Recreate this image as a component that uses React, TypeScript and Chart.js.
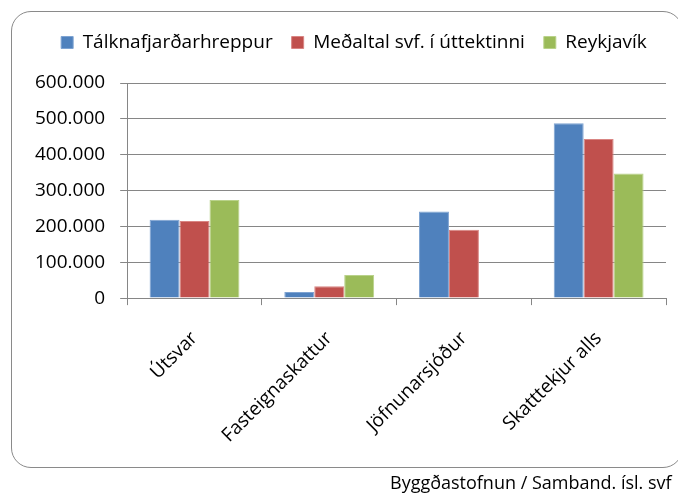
import { useEffect, useRef } from "react";
import { Chart, registerables } from "chart.js";

Chart.register(...registerables);

const categories = ["Útsvar", "Fasteignaskattur", "Jöfnunarsjóður", "Skatttekjur alls"];
const seriesNames = ["Tálknafjarðarhreppur", "Meðaltal svf. í úttektinni", "Reykjavík"];
const talknafjordur = [218500, 16900, 241900, 487600];
const medaltal = [214800, 32900, 190400, 443500];
const reykjavik = [273900, 64700, 2000, 347900];
const seriesColors = ["#4F81BD", "#C0504D", "#9BBB59"];
const seriesBorders = ["#7EA3D2", "#D98583", "#B9D28A"];
const yMin = 0;
const yMax = 600000;
const yStep = 100000;
const sourceText = "Byggðastofnun / Samband. ísl. svf";

const FONT = "'Open Sans', sans-serif";

function fmt(v: number): string {
  return String(Math.round(v)).replace(/\B(?=(\d{3})+(?!\d))/g, ".");
}

const legendSpacer = {
  id: "legendSpacer",
  beforeInit(chart: any) {
    const origFit = chart.legend.fit;
    chart.legend.fit = function fit() {
      origFit.bind(chart.legend)();
      this.height += 21;
    };
  },
  afterUpdate(chart: any) {
    const lg = chart.legend;
    if (lg) {
      lg.left += 11;
      lg.right += 11;
    }
  },
};

export default function App() {
  const ref = useRef<HTMLCanvasElement | null>(null);

  useEffect(() => {
    if (!ref.current) return;
    const values = [talknafjordur, medaltal, reykjavik];
    const chart = new Chart(ref.current, {
      type: "bar",
      data: {
        labels: categories,
        datasets: seriesNames.map((name, i) => ({
          label: name,
          data: values[i],
          backgroundColor: seriesColors[i],
          borderColor: seriesBorders[i],
          borderWidth: 1,
          categoryPercentage: 0.667,
          barPercentage: 1,
        })),
      },
      plugins: [legendSpacer],
      options: {
        responsive: false,
        animation: false,
        layout: { padding: { left: 20, right: 42, top: 14, bottom: 25 } },
        plugins: {
          tooltip: { enabled: false },
          legend: {
            position: "top",
            labels: {
              boxWidth: 12,
              boxHeight: 12,
              padding: 19,
              color: "#000",
              font: { family: FONT, size: 19 },
            },
          },
        },
        scales: {
          x: {
            grid: {
              display: true,
              drawOnChartArea: false,
              drawTicks: true,
              tickLength: 7,
              color: "#868686",
              offset: true,
            },
            border: { display: true, color: "#868686", width: 1 },
            ticks: {
              minRotation: 45,
              maxRotation: 45,
              padding: 22,
              color: "#000",
              font: { family: FONT, size: 19 },
            },
          },
          y: {
            min: yMin,
            max: yMax,
            grid: { color: "#868686", tickLength: 7, lineWidth: 1 },
            border: { display: true, color: "#868686", width: 1 },
            ticks: {
              stepSize: yStep,
              padding: 15,
              color: "#000",
              font: { family: FONT, size: 19 },
              callback: (v) => fmt(Number(v)),
            },
          },
        },
      },
    });
    return () => chart.destroy();
  }, []);

  return (
    <div style={{ position: "fixed", left: 0, top: 0, width: 678, height: 494, overflow: "hidden", background: "#fff" }}>
      <div
        style={{
          position: "absolute",
          left: 11,
          top: 11,
          width: 672,
          height: 457,
          border: "1.5px solid #8a8a8a",
          borderRadius: 20,
          boxSizing: "border-box",
        }}
      />
      <canvas ref={ref} width={708} height={494} style={{ position: "absolute", left: 0, top: 0, width: 708, height: 494 }} />
      <div
        style={{
          position: "absolute",
          left: 390,
          top: 471,
          fontFamily: FONT,
          fontSize: 18,
          whiteSpace: "nowrap",
          color: "#000",
          lineHeight: "22px",
        }}
      >
        {sourceText}
      </div>
    </div>
  );
}
